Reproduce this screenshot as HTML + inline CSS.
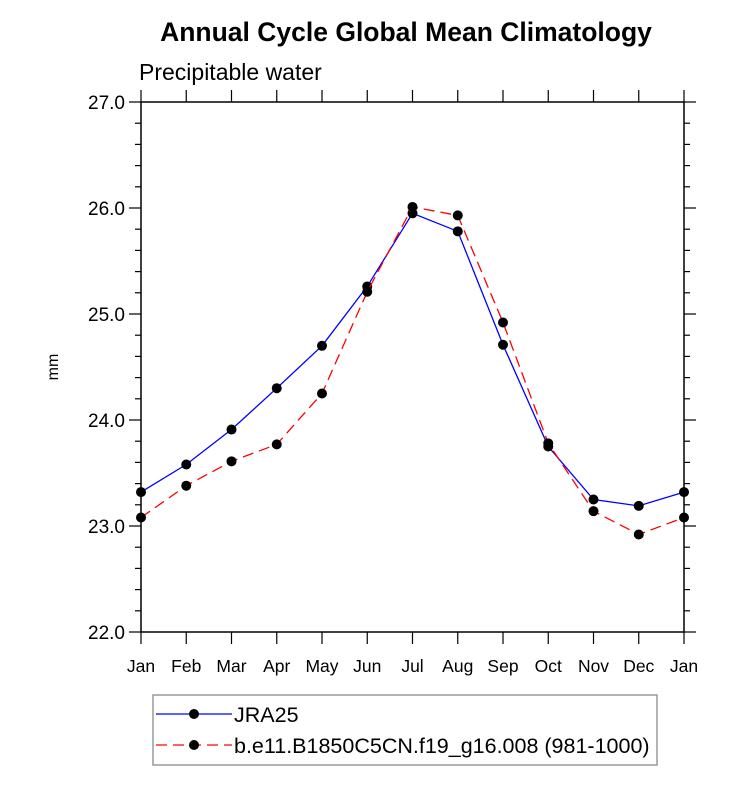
<!DOCTYPE html>
<html><head><meta charset="utf-8"><style>
body{margin:0;background:#fff}
svg text{font-family:"Liberation Sans",sans-serif}
</style></head><body>
<svg id="chart" width="733" height="786" xmlns="http://www.w3.org/2000/svg">
<text x="406" y="41" font-size="26.5" font-weight="bold" text-anchor="middle">Annual Cycle Global Mean Climatology</text>
<text x="139" y="80" font-size="23">Precipitable water</text>
<text transform="translate(58,367) rotate(-90)" font-size="16" text-anchor="middle">mm</text>
<g id="axes"></g>
<g id="series"></g>
<rect x="141" y="102" width="543" height="530" fill="none" stroke="#000" stroke-width="1.5"/>
<g>
<rect x="153" y="695" width="504" height="70" fill="#fff" stroke="#999" stroke-width="1.5"/>
<g>
<line x1="156" y1="714" x2="232" y2="714" stroke="#0000ff" stroke-width="1.3"/>
<circle cx="194" cy="714" r="5" fill="#000"/>
<text x="234" y="722" font-size="21.5">JRA25</text></g>
<g>
<line x1="156" y1="745" x2="232" y2="745" stroke="#ff0000" stroke-width="1.3" stroke-dasharray="11,6"/>
<circle cx="194" cy="745" r="5" fill="#000"/>
<text x="234" y="753" font-size="21.5">b.e11.B1850C5CN.f19_g16.008 (981-1000)</text></g>
</g>
</svg>
<script>
const months = ["Jan","Feb","Mar","Apr","May","Jun","Jul","Aug","Sep","Oct","Nov","Dec","Jan"];
const jra25 = [23.32,23.58,23.91,24.30,24.70,25.26,25.95,25.78,24.71,23.75,23.25,23.19,23.32];
const model = [23.08,23.38,23.61,23.77,24.25,25.21,26.01,25.93,24.92,23.78,23.14,22.92,23.08];
const yTicks = ["22.0","23.0","24.0","25.0","26.0","27.0"];
const NS="http://www.w3.org/2000/svg";
const X0=141,X1=684,Y0=632,Y1=102,YMIN=22,YMAX=27;
const xs=i=>X0+(X1-X0)*i/(months.length-1);
const ys=v=>Y0-(Y0-Y1)*(v-YMIN)/(YMAX-YMIN);
function mk(tag,attrs,parent){const e=document.createElementNS(NS,tag);for(const k in attrs)e.setAttribute(k,attrs[k]);parent.appendChild(e);return e;}
const axes=document.getElementById('axes');
months.forEach((m,i)=>{
  const x=xs(i);
  const t1=mk('line',{x1:x,y1:Y0,x2:x,y2:Y0+12,stroke:'#000','stroke-width':1.2},axes);
  
  
  const t2=mk('line',{x1:x,y1:Y1,x2:x,y2:Y1-12,stroke:'#000','stroke-width':1.2},axes);
  
  
  const l=mk('text',{x:x,y:Y0+40,'font-size':17.5,'text-anchor':'middle'},axes);
  l.textContent=m;
  
  
});
for(let v=YMIN;v<=YMAX+1e-6;v+=0.2){
  const y=ys(v);const major=Math.abs(v-Math.round(v))<1e-6;const len=major?12:6;
  const a=mk('line',{x1:X0,y1:y,x2:X0-len,y2:y,stroke:'#000','stroke-width':1.2},axes);
  
  
  const b=mk('line',{x1:X1,y1:y,x2:X1+len,y2:y,stroke:'#000','stroke-width':1.2},axes);
  
  
}
yTicks.forEach(s=>{
  const t=mk('text',{x:X0-16,y:ys(parseFloat(s))+7,'font-size':19,'text-anchor':'end'},axes);
  t.textContent=s;
  
  
});
const ser=document.getElementById('series');
function draw(vals,color,dash,name){
  const pts=vals.map((v,i)=>xs(i)+','+ys(v)).join(' ');
  const p=mk('polyline',{points:pts,fill:'none',stroke:color,'stroke-width':1.3,'stroke-dasharray':dash},ser);
  
  
  vals.forEach((v,i)=>{
    const c=mk('circle',{cx:xs(i),cy:ys(v),r:5,fill:'#000'},ser);
    
    
  });
}
draw(jra25,'#0000ff','none','jra25');
draw(model,'#ff0000','11,6','model');
</script>
</body></html>
